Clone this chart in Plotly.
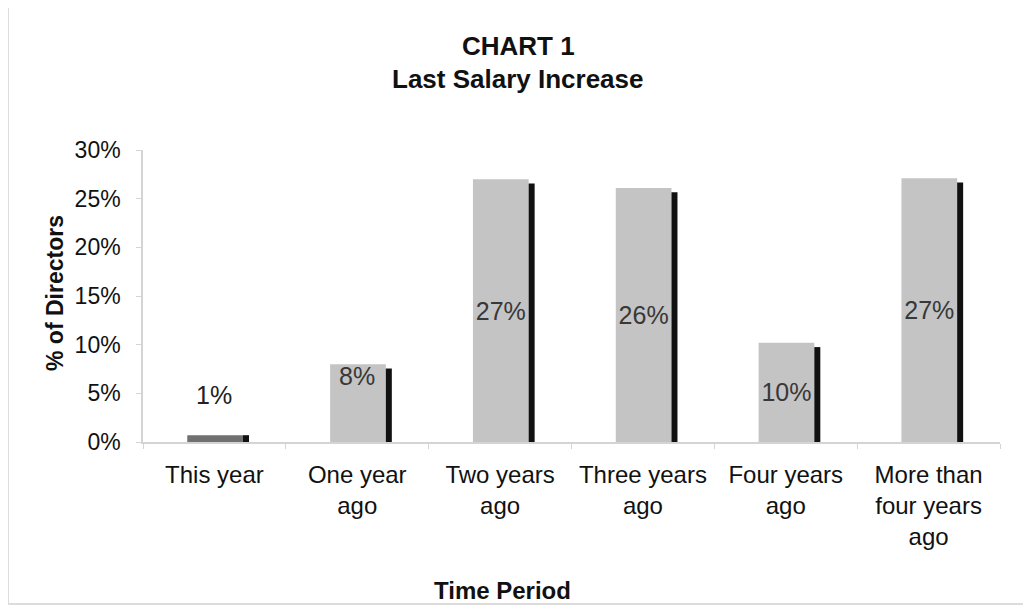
import plotly.graph_objects as go

categories = ["This year", "One year<br>ago", "Two years<br>ago", "Three years<br>ago",
              "Four years<br>ago", "More than<br>four years<br>ago"]
values = [0.7, 8.0, 27.0, 26.1, 10.2, 27.1]
y_ticks = [0, 5, 10, 15, 20, 25, 30]
y_tick_labels = [f"{v}%" for v in y_ticks]
title_lines = ["CHART 1", "Last Salary Increase"]
x_title = "Time Period"
y_title = "% of Directors"

FONT = "Liberation Sans, Arial, sans-serif"
labels = [f"{round(v)}%" for v in values]
pos = ["none", "none", "inside", "inside", "inside", "inside"]

# page has an 8px body margin: design in page pixels, convert
OFF = 8
W, H = 1031 - OFF, 610 - OFF
PL, PR, PT, PB = 143, 1000, 150, 442          # plot area in page pixels
pw, ph = PR - PL, PB - PT
L, R, T, B = PL - OFF, 1031 - PR, PT - OFF, H - (PB - OFF)


def px_x(x):
    return (x - PL) / pw


def px_y(y):
    return (PB - y) / ph


fig = go.Figure()
fig.add_trace(go.Bar(
    x=categories, y=values, width=0.39, offset=-0.19,
    marker=dict(color=["#707070"] + ["#c4c4c4"] * 5, line=dict(width=0)),
    text=labels, textposition=pos, insidetextanchor="middle",
    textangle=0, constraintext="none",
    textfont=dict(family=FONT, size=25, color="#383838"),
    hoverinfo="skip", showlegend=False,
))
fig.add_trace(go.Bar(
    x=categories, y=[v - 0.45 if v > 1 else v for v in values], width=0.042, offset=0.2,
    marker=dict(color="#111111", line=dict(width=0)),
    hoverinfo="skip", showlegend=False,
))

# labels for the two short bars
fig.add_annotation(x=categories[0], y=values[0], text=labels[0], showarrow=False,
                   yanchor="bottom", yshift=24, font=dict(family=FONT, size=25, color="#222222"))
fig.add_annotation(x=categories[1], y=values[1], text=labels[1], showarrow=False,
                   yanchor="top", yshift=4, font=dict(family=FONT, size=25, color="#383838"))

# titles
for i, (txt, yc) in enumerate(zip(title_lines, [46, 79])):
    fig.add_annotation(xref="paper", yref="paper", x=px_x(518), y=px_y(yc),
                       text=f"<b>{txt}</b>", showarrow=False, xanchor="center", yanchor="middle",
                       font=dict(family=FONT, size=26, color="#111111"))

# axis titles
fig.add_annotation(xref="paper", yref="paper", x=px_x(502), y=px_y(590),
                   text=f"<b>{x_title}</b>", showarrow=False, xanchor="center", yanchor="middle",
                   font=dict(family=FONT, size=24, color="#111111"))
fig.add_annotation(xref="paper", yref="paper", x=px_x(55), y=px_y(293), textangle=-90,
                   text=f"<b>{y_title}</b>", showarrow=False, xanchor="center", yanchor="middle",
                   font=dict(family=FONT, size=23, color="#111111"))

# chart frame
fig.add_shape(type="rect", xref="paper", yref="paper",
              x0=px_x(8), x1=px_x(1026), y0=px_y(604), y1=px_y(5),
              line=dict(color="#dcdcdc", width=2), fillcolor="rgba(0,0,0,0)", layer="below")

fig.update_layout(
    width=W, height=H,
    margin=dict(l=L, r=R, t=T, b=B, autoexpand=False),
    paper_bgcolor="white", plot_bgcolor="white",
    barmode="overlay",
    font=dict(family=FONT, color="#111111"),
)
fig.update_xaxes(
    showline=True, linecolor="#d4d4d4", linewidth=1.5,
    ticks="outside", tickson="boundaries", ticklen=5, tickcolor="#d4d4d4",
    showgrid=False, zeroline=False,
    tickfont=dict(family=FONT, size=24, color="#111111"),
    ticklabelstandoff=10,
)
fig.update_yaxes(
    range=[0, 30], tickvals=y_ticks, ticktext=y_tick_labels,
    showline=True, linecolor="#d4d4d4", linewidth=1.5,
    ticks="outside", ticklen=5, tickcolor="#d4d4d4",
    showgrid=False, zeroline=False,
    tickfont=dict(family=FONT, size=23, color="#111111"),
    ticklabelstandoff=11,
)

fig.write_html("out.html")
